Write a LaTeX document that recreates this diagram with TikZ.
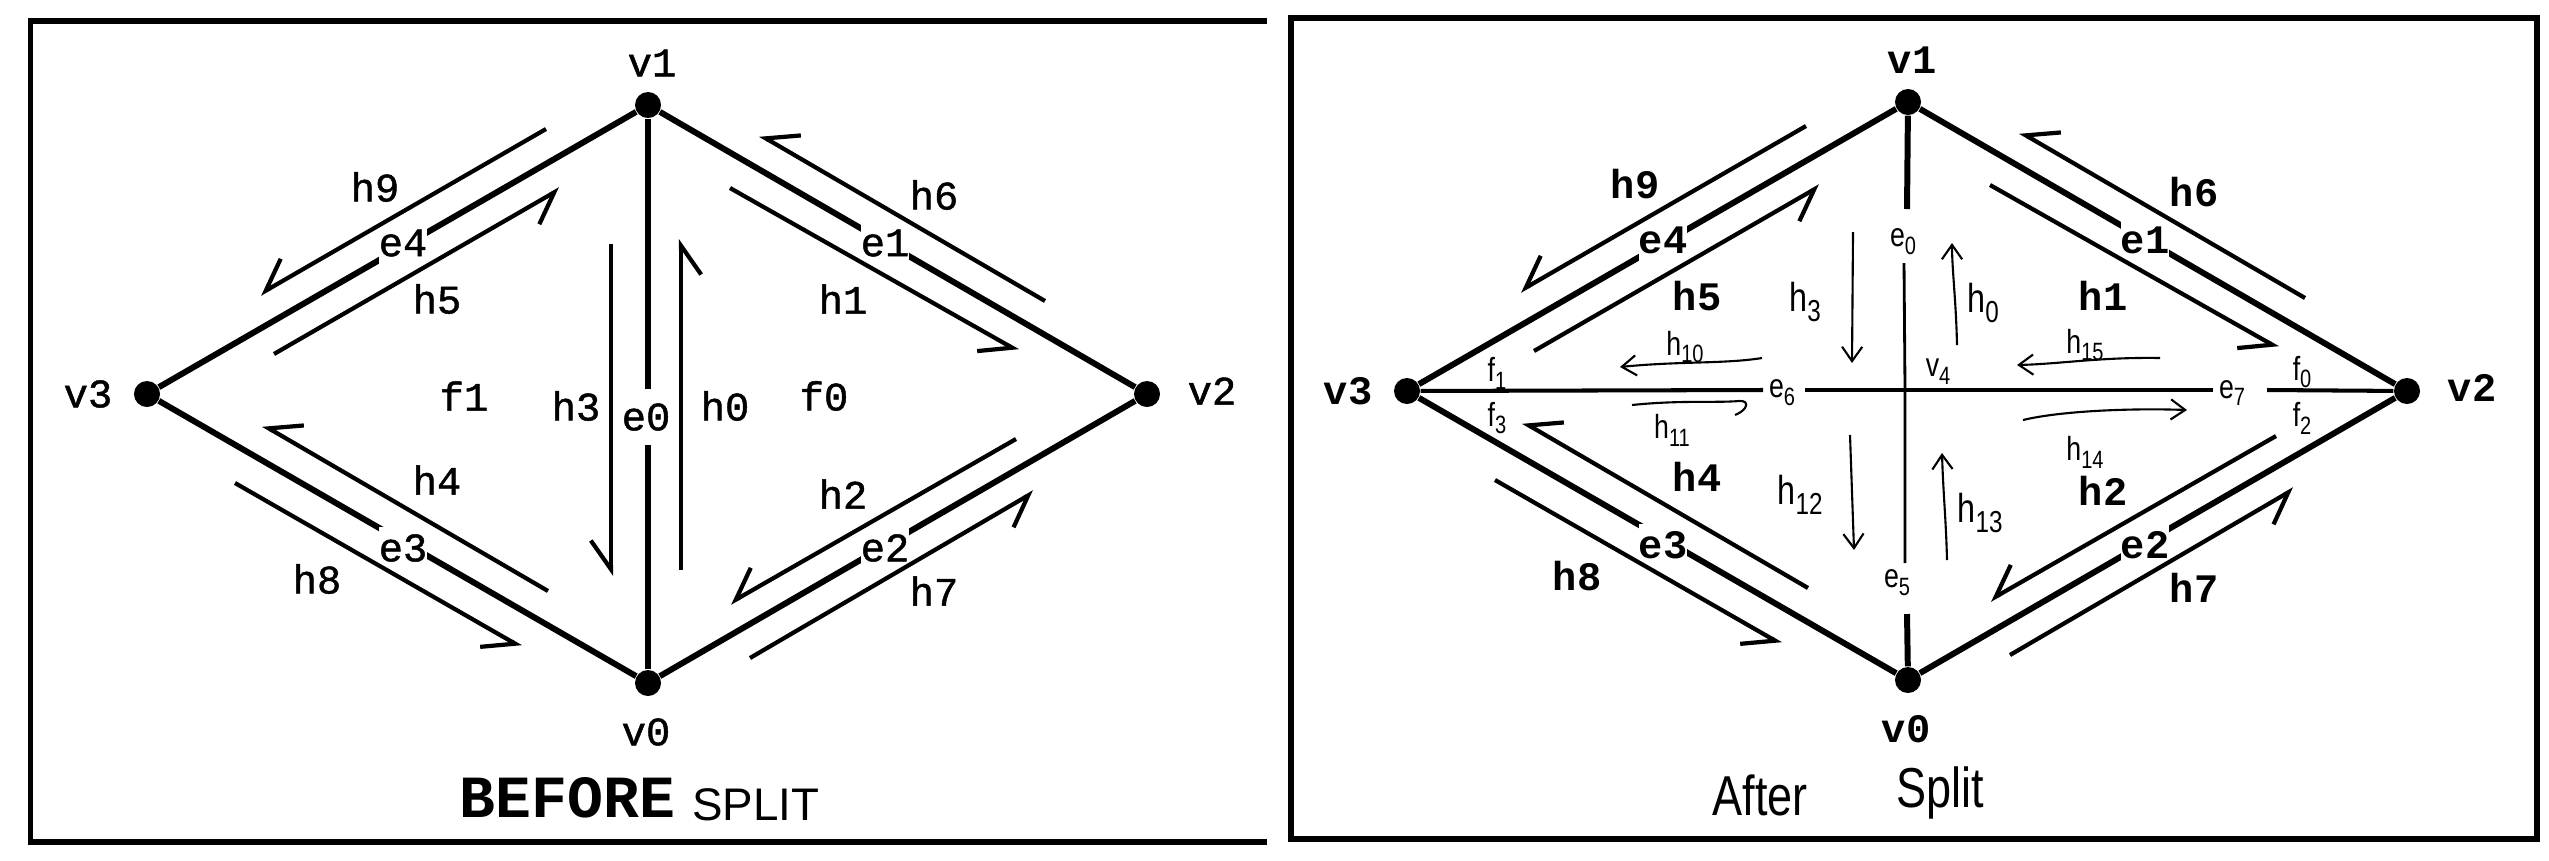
\documentclass[tikz,border=0pt]{standalone}
\usepackage{fontspec}
\setmainfont{Liberation Serif}
\newfontfamily\cour{Liberation Mono}[FakeBold=1.2]
\newfontfamily\courb{Liberation Mono}
\newfontfamily\helv{Liberation Sans}
\newfontfamily\hand{Liberation Sans}[FakeStretch=0.8]
\usetikzlibrary{arrows.meta}
\newcommand\sbs[2]{#1\raisebox{-0.45ex}{\scalebox{0.75}{#2}}}
\tikzset{
 dot/.style={circle,fill=black,inner sep=0pt,minimum size=7.4pt},
 edge/.style={line width=1.7pt},
 half/.style={line width=1.2pt,-{Straight Barb[harpoon,swap,angle=70:10pt]}},
 frame/.style={line width=1.56pt,line join=miter},
 lab/.style={inner sep=1pt,font=\cour\fontsize{11.5}{12}\selectfont},
 elab/.style={lab,fill=white,inner xsep=0pt,inner ysep=2pt},
 bfl/.style={font=\courb\bfseries\fontsize{11.5}{12}\selectfont},
 hw/.style={inner sep=0.5pt,font=\hand\fontsize{9.5}{9.5}\selectfont},
 hwb/.style={inner sep=0.5pt,font=\hand\fontsize{11.5}{11.5}\selectfont},
 harr/.style={line width=0.6pt,-{Straight Barb[angle=70:5pt]}},
 handline/.style={line width=0.6pt},
 thinedge/.style={line width=0.8pt},
 hedge/.style={line width=1.15pt},
}
\newcommand\diamondpart[2]{%
 \node[dot] (#1v1) at (648,105) {};
 \node[dot] (#1v0) at (648,683) {};
 \node[dot] (#1v3) at (147,394) {};
 \node[dot] (#1v2) at (1147,394) {};
 \draw[edge] (#1v3) -- (#1v1);
 \draw[edge] (#1v1) -- (#1v2);
 \draw[edge] (#1v2) -- (#1v0);
 \draw[edge] (#1v0) -- (#1v3);
 \node[elab,#2] (#1e4) at (403,243) {e4};
 \node[elab,#2] (#1e1) at (885,243) {e1};
 \node[elab,#2] (#1e3) at (403,548) {e3};
 \node[elab,#2] (#1e2) at (885,548) {e2};
 \node[lab,#2] (#1lv1) at (652,63) {v1};
 \node[lab,#2] (#1lv0) at (646,732) {v0};
 \node[lab,#2] (#1lv3) at (88,394) {v3};
 \node[lab,#2] (#1lv2) at (1212,391) {v2};
 \node[lab,#2] (#1lh9) at (375,187) {h9};
 \node[lab,#2] (#1lh5) at (437,299) {h5};
 \node[lab,#2] (#1lh6) at (934,195) {h6};
 \node[lab,#2] (#1lh1) at (843,299) {h1};
 \node[lab,#2] (#1lh4) at (437,480) {h4};
 \node[lab,#2] (#1lh2) at (843,494) {h2};
 \node[lab,#2] (#1lh8) at (317,579) {h8};
 \node[lab,#2] (#1lh7) at (934,591) {h7};
 \coordinate (#1s9) at (546,129); \coordinate (#1t9) at (260,294);
 \coordinate (#1s5) at (274,354); \coordinate (#1t5) at (560,189);
 \coordinate (#1s6) at (1045,301); \coordinate (#1t6) at (760,135);
 \coordinate (#1s1) at (730,188); \coordinate (#1t1) at (1018,351);
 \coordinate (#1s4) at (548,591); \coordinate (#1t4) at (263,425);
 \coordinate (#1s8) at (235,483); \coordinate (#1t8) at (521,647);
 \coordinate (#1s2) at (1016,439); \coordinate (#1t2) at (730,603);
 \coordinate (#1s7) at (750,658); \coordinate (#1t7) at (1034,492);
 \foreach \h in {9,5,6,1,4,8,2,7} {\draw[half] (#1s\h) -- (#1t\h);}
}
\begin{document}
\begin{tikzpicture}[x=0.01cm,y=-0.01cm]
\useasboundingbox (0,0) rectangle (2549,860);
% frames
\coordinate (L1) at (1267,21); \coordinate (L2) at (30.5,21);
\coordinate (L3) at (30.5,842); \coordinate (L4) at (1267,842);
\draw[frame] (L1) -- (L2) -- (L3) -- (L4);
\coordinate (R1) at (1291,18); \coordinate (R2) at (2537,839);
\draw[frame] (R1) rectangle (R2);
% ---------- left panel ----------
\diamondpart{}{}
\draw[edge] (v1) -- (v0);
\node[elab,minimum height=16pt] (e0) at (646,417) {e0};
\node[lab] (f1) at (464,396) {f1};
\node[lab] (f0) at (824,396) {f0};
\node[lab] (lh3) at (576,406) {h3};
\node[lab] (lh0) at (725,406) {h0};
\coordinate (s3) at (611,244); \coordinate (t3) at (611,576);
\coordinate (s0) at (681,570); \coordinate (t0) at (681,239);
\draw[half] (s3) -- (t3);
\draw[half] (s0) -- (t0);
\node[font=\courb\bfseries\fontsize{17}{17}\selectfont,anchor=base] (before) at (567.5,817) {BEFORE};
\node[font=\helv\fontsize{13}{13}\selectfont,anchor=base] (split) at (756,820) {SPLIT};
% ---------- right panel ----------
\begin{scope}[shift={(1260,-3)}]
\diamondpart{R}{bfl}
\end{scope}
\coordinate (e0a) at (1907,209);
\coordinate (e0b) at (1904,263);
\coordinate (v4) at (1905,390);
\coordinate (e5a) at (1905,563);
\coordinate (e5b) at (1907,614);
\draw[edge] (Rv1) -- (e0a);
\draw[thinedge] (e0b) -- (v4) -- (e5a);
\draw[edge] (e5b) -- (Rv0);
\coordinate (e6a) at (1763,390); \coordinate (e6b) at (1805,390);
\coordinate (e7a) at (2213,390); \coordinate (e7b) at (2267,390);
\draw[hedge] (Rv3) -- (e6a);
\draw[hedge] (e6b) -- (e7a);
\draw[hedge] (e7b) -- (Rv2);
% hand labels
\node[hw] (he0) at (1903,242) {\sbs{e}{0}};
\node[hw] (he5) at (1897,583) {\sbs{e}{5}};
\node[hw] (he6) at (1782,393) {\sbs{e}{6}};
\node[hw] (he7) at (2232,393) {\sbs{e}{7}};
\node[hw] (hv4) at (1938,372) {\sbs{v}{4}};
\node[hw] (hf0) at (2302,372) {\sbs{f}{0}};
\node[hw] (hf2) at (2302,418) {\sbs{f}{2}};
\node[hw] (hf1) at (1497,373) {\sbs{f}{1}};
\node[hw] (hf3) at (1497,418) {\sbs{f}{3}};
\node[hwb] (hl3) at (1805,302) {\sbs{h}{3}};
\node[hwb] (hl0) at (1983,303) {\sbs{h}{0}};
\node[hw] (hl15) at (2085,345) {\sbs{h}{15}};
\node[hw] (hl14) at (2085,452) {\sbs{h}{14}};
\node[hw] (hl10) at (1685,347) {\sbs{h}{10}};
\node[hw] (hl11) at (1672,430) {\sbs{h}{11}};
\node[hwb] (hl12) at (1800,495) {\sbs{h}{12}};
\node[hwb] (hl13) at (1980,513) {\sbs{h}{13}};
% hand arrows
\coordinate (a3s) at (1853,232); \coordinate (a3t) at (1852,363);
\coordinate (a0s) at (1957,345); \coordinate (a0t) at (1952,243);
\coordinate (a15s) at (2160,358); \coordinate (a15t) at (2017,365);
\coordinate (a14s) at (2023,420); \coordinate (a14t) at (2187,410);
\coordinate (a10s) at (1762,358); \coordinate (a10t) at (1620,367);
\coordinate (a11s) at (1632,405); \coordinate (a11m) at (1739,401); \coordinate (a11t) at (1735,415);
\coordinate (a12s) at (1850,435); \coordinate (a12t) at (1854,550);
\coordinate (a13s) at (1947,560); \coordinate (a13t) at (1942,453);
\draw[harr] (a3s) -- (a3t);
\draw[harr] (a0s) .. controls (1956,300) and (1952,270) .. (a0t);
\draw[harr] (a15s) .. controls (2100,357) and (2060,364) .. (a15t);
\draw[harr] (a14s) .. controls (2060,411) and (2130,408) .. (a14t);
\draw[harr] (a10s) .. controls (1725,364) and (1680,361) .. (a10t);
\draw[handline] (a11s) .. controls (1680,400) and (1715,403) .. (a11m) .. controls (1750,400) and (1748,410) .. (a11t);
\draw[harr] (a12s) -- (a12t);
\draw[harr] (a13s) .. controls (1946,520) and (1943,490) .. (a13t);
\node[font=\hand\fontsize{16}{16}\selectfont] (after) at (1760,795) {After};
\node[font=\hand\fontsize{16}{16}\selectfont] (splitr) at (1940,793) {Split};
\end{tikzpicture}
\end{document}
